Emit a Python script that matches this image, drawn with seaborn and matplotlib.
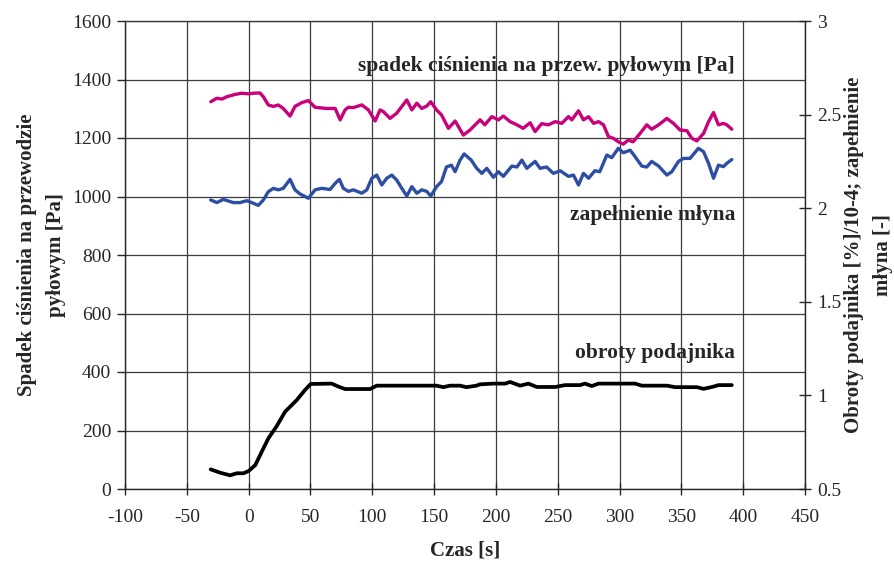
import matplotlib
matplotlib.use('Agg')
import matplotlib.pyplot as plt
import seaborn as sns

# %% data
# pressure drop on the dust pipe [Pa] (left axis)
pressure_t = [-30.6, -25.7, -21.7, -17.7, -11, -5.6, 0, 3.8, 9.2, 11.9,
              15.9, 20, 24, 28, 33.5, 37.5, 43, 48.3, 53.7, 63,
              70, 74, 78, 80.7, 84.7, 91.5, 96.9, 102.3, 106.3, 109,
              114.4, 119.8, 127.9, 132, 136, 140, 144, 147.3, 152, 156,
              161.6, 167, 173.7, 179, 187.2, 191, 196.7, 202, 206, 211.5,
              217, 222, 227.7, 231.7, 237, 242.5, 248, 253.3, 258.7, 261.4,
              266.8, 270.8, 275, 279, 283, 287, 291, 295, 299, 303,
              307, 311, 316.7, 322, 326, 331.6, 338.3, 343.6, 349, 354.5,
              358.5, 362.5, 368, 372, 376, 380, 384, 386.8, 390.8]
pressure_pa = [1324, 1336, 1333, 1341, 1349, 1353, 1351, 1353, 1354, 1341,
               1313, 1308, 1313, 1301, 1275, 1308, 1321, 1328, 1305, 1301,
               1301, 1262, 1296, 1305, 1304, 1313, 1296, 1258, 1296, 1290,
               1267, 1285, 1330, 1296, 1319, 1301, 1309, 1324, 1296, 1279,
               1233, 1258, 1210, 1227, 1262, 1245, 1273, 1262, 1275, 1256,
               1245, 1233, 1252, 1222, 1249, 1245, 1256, 1250, 1273, 1262,
               1293, 1262, 1273, 1250, 1256, 1245, 1205, 1199, 1187, 1179,
               1193, 1187, 1216, 1245, 1230, 1245, 1267, 1250, 1227, 1225,
               1199, 1190, 1216, 1256, 1287, 1245, 1250, 1245, 1230]

# mill filling [-] (right axis)
fill_t = [-30.7, -25.7, -20.5, -12.4, -7, -1.5, 2.5, 7.8, 11.9, 15.9,
          20, 24, 28, 33.5, 37.5, 41.6, 48.3, 53.7, 59, 65.9,
          70, 73.4, 76.6, 80.7, 84.7, 91.5, 95.6, 99.6, 103.6, 107.7,
          111.7, 115.8, 119.8, 123.9, 127.9, 132, 136, 140, 144, 147.3,
          152, 156, 160, 164, 167, 171, 174.3, 180, 184.5, 188.6,
          192.6, 198, 202, 206, 212.9, 217, 221, 225, 231.7, 235.7,
          241, 246.5, 252, 258.7, 262.7, 266.8, 270.8, 275, 280, 284,
          289.7, 293.7, 299, 303, 308.6, 312.6, 318, 322, 326, 331.6,
          338.3, 342.3, 347.7, 351.8, 357, 363.8, 367.9, 372, 376, 380,
          384, 386.8, 390.8]
fill_val = [2.044, 2.030, 2.047, 2.030, 2.030, 2.040, 2.030, 2.015, 2.044, 2.088,
            2.106, 2.098, 2.106, 2.154, 2.098, 2.076, 2.053, 2.098, 2.106, 2.10,
            2.133, 2.154, 2.106, 2.09, 2.098, 2.08, 2.098, 2.16, 2.177, 2.124,
            2.16, 2.177, 2.15, 2.106, 2.065, 2.115, 2.08, 2.098, 2.09, 2.065,
            2.115, 2.142, 2.22, 2.23, 2.195, 2.257, 2.29, 2.257, 2.213, 2.186,
            2.213, 2.165, 2.195, 2.17, 2.225, 2.22, 2.257, 2.213, 2.25, 2.213,
            2.22, 2.186, 2.20, 2.17, 2.177, 2.124, 2.186, 2.16, 2.20, 2.195,
            2.284, 2.27, 2.32, 2.296, 2.31, 2.275, 2.225, 2.22, 2.25, 2.225,
            2.177, 2.195, 2.25, 2.266, 2.266, 2.32, 2.302, 2.24, 2.16, 2.23,
            2.222, 2.24, 2.26]

# feeder speed [%]/10-4 (right axis)
feed_t = [-30.7, -23, -15, -9.6, -4.2, 0, 5.4, 10.6, 16, 22.7,
          29.5, 38.9, 45.6, 50.2, 67.2, 72.6, 78, 98.2, 103.6, 152,
          157.4, 162.8, 171, 176.2, 184.3, 187, 198, 207.5, 211.5, 219.6,
          226.3, 233, 248, 256, 268, 272, 277.6, 283, 312.6, 318,
          338.3, 345, 362.5, 368, 376, 380, 390.8]
feed_val = [0.605, 0.587, 0.573, 0.584, 0.584, 0.596, 0.628, 0.699, 0.771, 0.836,
            0.913, 0.975, 1.029, 1.061, 1.063, 1.047, 1.034, 1.034, 1.052, 1.052,
            1.044, 1.052, 1.052, 1.044, 1.052, 1.059, 1.063, 1.063, 1.072, 1.052,
            1.063, 1.045, 1.045, 1.055, 1.055, 1.063, 1.05, 1.063, 1.063, 1.052,
            1.052, 1.044, 1.044, 1.035, 1.047, 1.055, 1.055]

x_ticks = list(range(-100, 451, 50))
left_ticks = list(range(0, 1601, 200))
right_ticks = [0.5, 1, 1.5, 2, 2.5, 3]
right_labels = ['0.5', '1', '1.5', '2', '2.5', '3']

# %% plot
sns.set_style('ticks')
plt.rcParams['font.family'] = ['Liberation Serif', 'DejaVu Serif']
plt.rcParams['axes.unicode_minus'] = False

fig = plt.figure(figsize=(8.95, 5.65), dpi=100)
ax = fig.add_axes([125 / 895, 76 / 565, 680 / 895, 468 / 565])
ax2 = ax.twinx()

sns.lineplot(x=pressure_t, y=pressure_pa, ax=ax, color='#C8007A', lw=2.4)
sns.lineplot(x=fill_t, y=fill_val, ax=ax2, color='#2E4EA3', lw=2.4)
sns.lineplot(x=feed_t, y=feed_val, ax=ax2, color='black', lw=2.7)

grid_c = '#3c3c3c'
ax.set_xlim(-100, 450)
ax.set_ylim(0, 1600)
ax2.set_ylim(0.5, 3)
ax.set_xticks(x_ticks)
ax.set_yticks(left_ticks)
ax2.set_yticks(right_ticks)
ax2.set_yticklabels(right_labels)
ax.grid(True, color=grid_c, lw=0.9)

for s in ['top', 'left', 'bottom']:
    ax2.spines[s].set_visible(False)
ax.spines['right'].set_visible(False)
ax.spines['top'].set_color(grid_c)
for a in (ax, ax2):
    for s in a.spines.values():
        s.set_linewidth(1.0)

ax.tick_params(axis='x', direction='inout', length=9, width=1, labelsize=14, pad=10)
ax.tick_params(axis='y', direction='out', length=6, width=1, labelsize=14, pad=4)
ax2.tick_params(axis='y', direction='inout', length=9, width=1, labelsize=14, pad=4)

ax.set_xlabel('Czas [s]', fontsize=15, fontweight='bold', labelpad=10)
ax.set_ylabel('Spadek ciśnienia na przewodzie\npyłowym [Pa]', fontsize=15,
              fontweight='bold', linespacing=1.6, labelpad=4)
ax2.set_ylabel('Obroty podajnika [%]/10-4; zapełnienie\nmłyna [-]', fontsize=15,
               fontweight='bold', linespacing=1.6, labelpad=2)

ax.text(393.5, 1446, 'spadek ciśnienia na przew. pyłowym [Pa]', ha='right',
        va='center', fontsize=15.5, fontweight='bold')
ax.text(393.5, 937, 'zapełnienie młyna', ha='right', va='center',
        fontsize=15.5, fontweight='bold')
ax.text(393.5, 465, 'obroty podajnika', ha='right', va='center',
        fontsize=15.5, fontweight='bold')

plt.savefig('out.png', dpi=100)
